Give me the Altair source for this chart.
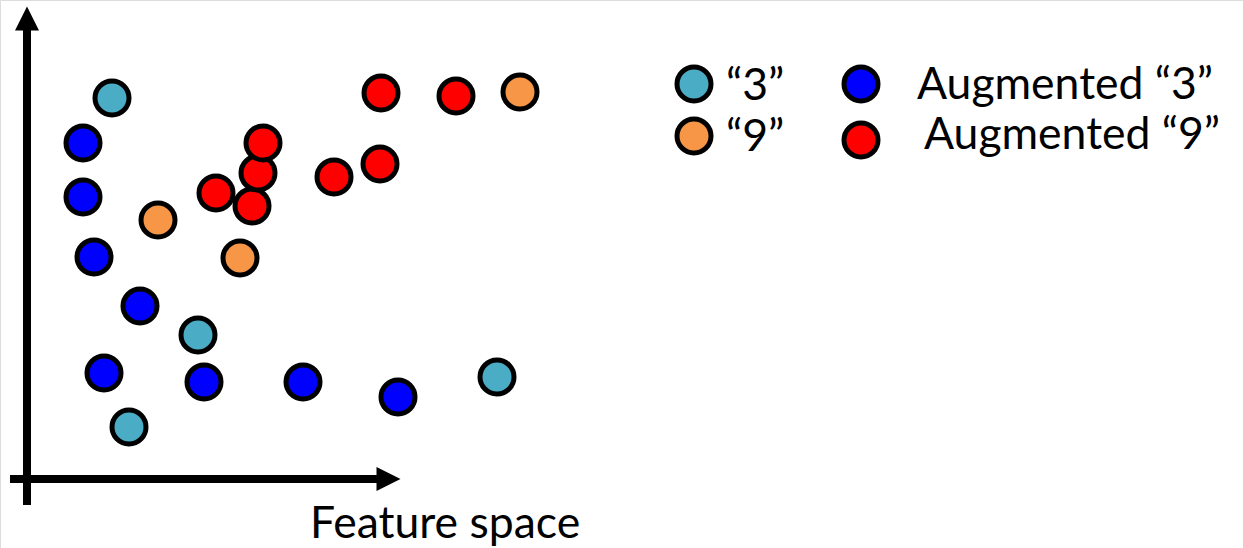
import altair as alt
import pandas as pd

# Samples in feature space (origin at the axis crossing, y pointing up)
orig3_x = [85, 171, 102, 470]
orig3_y = [381, 144, 52, 102]
aug3_x = [56, 56, 67, 113, 77, 177, 276, 371]
aug3_y = [336, 282, 222, 173, 106, 97, 97, 82]
orig9_x = [131, 213, 493]
orig9_y = [259, 221, 387]
aug9_x = [189, 225, 231, 236, 307, 353, 354, 429]
aug9_y = [286, 273, 306, 336, 302, 315, 386, 383]

groups = ["\u201c3\u201d", "\u201c9\u201d", "Augmented \u201c3\u201d", "Augmented \u201c9\u201d"]
group_colors = ["#4BACC6", "#F79646", "#0000FF", "#FF0000"]

rows = []
for g, xs, ys in [
    (groups[0], orig3_x, orig3_y),
    (groups[2], aug3_x, aug3_y),
    (groups[1], orig9_x, orig9_y),
    (groups[3], aug9_x, aug9_y),
]:
    for x, y in zip(xs, ys):
        rows.append({"x": x, "y": y, "group": g})
points = pd.DataFrame(rows)

W, H = 1243, 548
xs = alt.Scale(domain=[-27, W - 27], range=[0, W], nice=False, zero=False)
ys = alt.Scale(domain=[-69, 479], range=[H, 0], nice=False, zero=False)
color = alt.Scale(domain=groups, range=group_colors)

X = lambda f="x": alt.X(f"{f}:Q", scale=xs, axis=None)
Y = lambda f="y": alt.Y(f"{f}:Q", scale=ys, axis=None)

FONT = "Lato"
FS = 44.5

# axis shafts
shafts = pd.DataFrame([
    {"x": -17, "x2": 358, "y": 0, "y2": 0},
    {"x": 0, "x2": 0, "y": -26, "y2": 461},
])
shaft_layer = alt.Chart(shafts).mark_rule(color="black", strokeWidth=8).encode(
    x=X(), x2="x2:Q", y=Y(), y2="y2:Q"
)

# arrow heads
heads_right = alt.Chart(pd.DataFrame([{"x": 361.5, "y": 0}])).mark_point(
    shape="M-1,-1L1,0L-1,1Z", size=576, filled=True, color="black", opacity=1
).encode(x=X(), y=Y())
heads_up = alt.Chart(pd.DataFrame([{"x": 0, "y": 460.5}])).mark_point(
    shape="M-1,1L0,-1L1,1Z", size=576, filled=True, color="black", opacity=1
).encode(x=X(), y=Y())

dots = alt.Chart(points).mark_point(
    shape="circle", size=1156, filled=True, stroke="black", strokeWidth=5, opacity=1
).encode(
    x=X(), y=Y(),
    fill=alt.Fill("group:N", scale=color, legend=None),
)

axis_label = alt.Chart(pd.DataFrame([{"x": 283, "y": -59, "t": "Feature space"}])).mark_text(
    align="left", baseline="alphabetic", font=FONT, fontSize=FS, color="black"
).encode(x=X(), y=Y(), text="t:N")

# hand-placed two-column key
key = pd.DataFrame({
    "group": groups,
    "mx": [667, 667, 834, 834],
    "my": [395, 343, 395, 339],
    "tx": [699, 699, 890, 897],
    "ty": [379, 328, 380, 330],
})
key_dots = alt.Chart(key).mark_point(
    shape="circle", size=1156, filled=True, stroke="black", strokeWidth=5, opacity=1
).encode(
    x=X("mx"), y=Y("my"),
    fill=alt.Fill("group:N", scale=color, legend=None),
)
key_text = alt.Chart(key).mark_text(
    align="left", baseline="alphabetic", font=FONT, fontSize=FS, color="black"
).encode(x=X("tx"), y=Y("ty"), text="group:N")

chart = alt.layer(
    shaft_layer, heads_right, heads_up, dots, axis_label, key_dots, key_text
).properties(
    width=W, height=H, autosize=alt.AutoSizeParams(type="none"), padding=0
).configure_view(stroke=None).configure(background="white")

chart.save("out.html", embed_options={"renderer": "svg", "actions": False})
